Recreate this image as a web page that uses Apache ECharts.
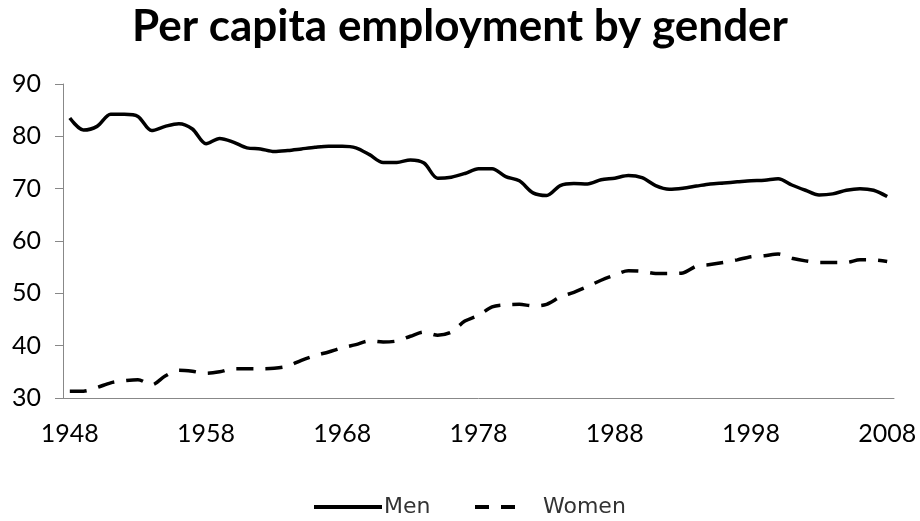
<!DOCTYPE html>
<html>
<head>
<meta charset="utf-8">
<script src="https://cdn.jsdelivr.net/npm/echarts@6/dist/echarts.min.js"></script>
<style>
  html, body { margin: 0; padding: 0; background: #fff; }
  #chart { width: 920px; height: 521px; }
</style>
</head>
<body>
<div id="chart"></div>
<script>
// years 1948..2008
const years = []
for (let y = 1948; y <= 2008; y++) years.push(String(y))

// per capita employment
const men = [
  83.5, 81.2, 81.9, 84.2, 84.2, 83.8, 81.1, 81.9, 82.4, 81.4,
  78.6, 79.6, 78.9, 77.8, 77.6, 77.1, 77.3, 77.6, 77.9, 78.1,
  78.1, 77.8, 76.5, 75.0, 75.0, 75.5, 74.9, 72.0, 72.2, 72.9,
  73.8, 73.8, 72.3, 71.5, 69.2, 68.7, 70.6, 71.0, 70.9, 71.7,
  72.0, 72.5, 72.1, 70.6, 69.9, 70.1, 70.5, 70.9, 71.1, 71.3,
  71.5, 71.6, 71.9, 70.7, 69.7, 68.8, 69.0, 69.7, 70.0, 69.7,
  68.5
]
const women = [
  31.3, 31.3, 32.0, 32.9, 33.3, 33.5, 32.5, 34.2, 35.3, 35.1,
  34.7, 35.0, 35.6, 35.6, 35.6, 35.7, 36.1, 37.2, 38.1, 38.8,
  39.6, 40.2, 40.9, 40.7, 40.9, 41.8, 42.6, 42.0, 42.6, 44.7,
  45.8, 47.4, 47.8, 47.9, 47.6, 47.9, 49.3, 50.2, 51.3, 52.5,
  53.5, 54.3, 54.2, 53.8, 53.8, 53.9, 55.2, 55.5, 55.9, 56.4,
  57.0, 57.2, 57.5, 56.7, 56.2, 55.9, 55.9, 55.9, 56.4, 56.4,
  56.1
]
const labelYears = ['1948', '1958', '1968', '1978', '1988', '1998', '2008']

const chart = echarts.init(document.getElementById('chart'))

const legendText = { fontFamily: 'DejaVu Sans', fontSize: 22, color: '#333' }

const option = {
  animation: false,
  title: {
    text: 'Per capita employment by gender',
    left: 'center',
    top: 0,
    textStyle: { fontFamily: 'Lato', fontWeight: 'bold', fontSize: 44, color: '#000' }
  },
  legend: [
    {
      data: ['Men'],
      left: 312,
      top: 496,
      padding: 0,
      itemWidth: 68,
      itemHeight: 14,
      itemStyle: { opacity: 0 },
      lineStyle: { width: 4 },
      textStyle: Object.assign({ padding: [0, 0, 0, -3] }, legendText)
    },
    {
      data: ['Women'],
      left: 473,
      top: 496,
      padding: 0,
      itemWidth: 47,
      itemHeight: 14,
      itemStyle: { opacity: 0 },
      lineStyle: { width: 4, type: [14, 12] },
      textStyle: Object.assign({ padding: [0, 0, 0, 16] }, legendText)
    }
  ],
  grid: {
    left: 63,
    right: 26,
    top: 84,
    bottom: 123,
    containLabel: false
  },
  xAxis: {
    type: 'category',
    data: years,
    boundaryGap: true,
    axisLine: { lineStyle: { color: '#888', width: 1 } },
    axisTick: { interval: 0, length: 8, lineStyle: { color: '#888' } },
    axisLabel: {
      interval: (i, v) => labelYears.includes(v),
      margin: 23,
      fontFamily: 'Lato',
      fontSize: 25,
      color: '#000'
    },
    splitLine: { show: false }
  },
  yAxis: {
    type: 'value',
    min: 30,
    max: 90,
    interval: 10,
    axisLine: { show: true, lineStyle: { color: '#888', width: 1 } },
    axisTick: { show: true, length: 8, lineStyle: { color: '#888' } },
    axisLabel: { margin: 22, fontFamily: 'Lato', fontSize: 25, color: '#000' },
    splitLine: { show: false }
  },
  series: [
    {
      name: 'Men',
      type: 'line',
      data: men,
      symbol: 'none',
      smooth: 0.3,
      lineStyle: { color: '#000', width: 3.5 }
    },
    {
      name: 'Women',
      type: 'line',
      data: women,
      symbol: 'none',
      smooth: 0.3,
      lineStyle: { color: '#000', width: 3.5, type: [17, 12] }
    }
  ]
}

chart.setOption(option)
</script>
</body>
</html>
